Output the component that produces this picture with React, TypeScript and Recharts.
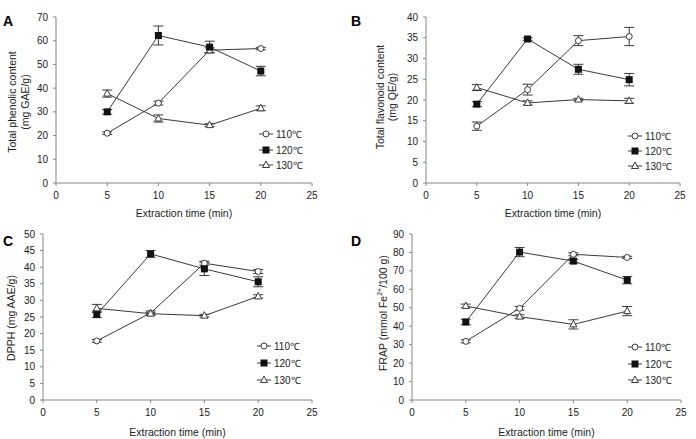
import React from "react";
import { LineChart, Line, XAxis, YAxis, ErrorBar, Label } from "recharts";

const times = [5, 10, 15, 20];
const xTicks = [0, 5, 10, 15, 20, 25];

// A: total phenolic content
const phenol110 = [21, 33.7, 56, 56.7];
const phenol120 = [30, 62.2, 57.3, 47.2];
const phenol130 = [37.7, 27.2, 24.4, 31.5];
const phenolErr110 = [0.5, 0.8, 1, 0.5];
const phenolErr120 = [1, 4, 2.5, 2];
const phenolErr130 = [1.5, 1.5, 0.6, 1];

// B: total flavonoid content
const flav110 = [13.7, 22.5, 34.3, 35.3];
const flav120 = [19, 34.7, 27.4, 24.9];
const flav130 = [23, 19.3, 20.1, 19.8];
const flavErr110 = [1, 1.3, 1.2, 2.2];
const flavErr120 = [0.6, 0.3, 1.2, 1.5];
const flavErr130 = [0.7, 0.5, 0.3, 0.6];

// C: DPPH
const dpph110 = [17.8, 26.2, 41.2, 38.7];
const dpph120 = [25.8, 44, 39.5, 35.6];
const dpph130 = [27.6, 26, 25.4, 31.2];
const dpphErr110 = [0.4, 0.6, 0.6, 0.6];
const dpphErr120 = [1, 1, 2, 1.5];
const dpphErr130 = [1.2, 0.4, 0.4, 0.5];

// D: FRAP
const frap110 = [31.8, 49.7, 79, 77.3];
const frap120 = [42.3, 80.2, 75.3, 65];
const frap130 = [51, 45.2, 41, 48.2];
const frapErr110 = [0.8, 1, 0.8, 0.6];
const frapErr120 = [1.5, 2.5, 1, 2];
const frapErr130 = [1, 1, 2.5, 2.5];

const legendLabels = ["110℃", "120℃", "130℃"];

const FONT = "'Liberation Sans', Arial, sans-serif";
const AXIS = "#878787";
const INK = "#3a3a3a";
const TEXT = "#222";

const buildRows = (a: number[], b: number[], c: number[], ea: number[], eb: number[], ec: number[]) =>
  times.map((t, i) => ({ t, s110: a[i], s120: b[i], s130: c[i], e110: ea[i], e120: eb[i], e130: ec[i] }));

const Circle = (p: any) => <circle key={p.key} cx={p.cx} cy={p.cy} r={3} fill="#fff" stroke={INK} strokeWidth={1} />;
const Square = (p: any) => <rect key={p.key} x={p.cx - 3.5} y={p.cy - 3.5} width={7} height={7} fill="#111" />;
const Triangle = (p: any) => (
  <polygon key={p.key} points={`${p.cx},${p.cy - 4} ${p.cx + 3.5},${p.cy + 2.5} ${p.cx - 3.5},${p.cy + 2.5}`} fill="#fff" stroke={INK} strokeWidth={1} />
);
const shapes = [Circle, Square, Triangle];

const LegendMark = ({ i }: { i: number }) => (
  <svg width={14} height={10} style={{ display: "block" }}>
    <line x1={0} x2={14} y1={5} y2={5} stroke={INK} strokeWidth={1} />
    {shapes[i]({ cx: 7, cy: 5, key: "m" })}
  </svg>
);

type PanelProps = {
  letter: string;
  left: number;
  top: number;
  width: number;
  height: number;
  yWidth: number;
  xHeight: number;
  mTop: number;
  mRight: number;
  yMax: number;
  yStep: number;
  rows: any[];
  yLines: string[] | React.ReactNode[];
  yLabelX: number[];
  yLabelY: number;
  legendX: number;
  legendY: number;
  legendGap: number;
};

const Panel = (p: PanelProps) => {
  const yTicks: number[] = [];
  for (let v = 0; v <= p.yMax; v += p.yStep) yTicks.push(v);
  const yLabel = () => (
    <g>
      {p.yLines.map((line, i) => (
        <text
          key={i}
          x={p.yLabelX[i]}
          y={p.yLabelY}
          transform={`rotate(-90, ${p.yLabelX[i]}, ${p.yLabelY})`}
          textAnchor="middle"
          dominantBaseline="central"
          fontSize={10.5}
          fill={TEXT}
          fontFamily={FONT}
        >
          {line}
        </text>
      ))}
    </g>
  );
  const tick = { fontSize: 10, fill: TEXT, fontFamily: FONT };
  return (
    <div style={{ position: "absolute", left: p.left, top: p.top }}>
      <LineChart width={p.width} height={p.height} data={p.rows} margin={{ top: p.mTop, right: p.mRight, left: 0, bottom: 0 }}>
        <XAxis
          dataKey="t"
          type="number"
          domain={[0, 25]}
          ticks={xTicks}
          height={p.xHeight}
          stroke={AXIS}
          tickSize={3}
          tickMargin={6}
          tick={tick}
          interval={0}
        >
          <Label value="Extraction time (min)" position="insideBottom" offset={3} fontSize={10.5} fill={TEXT} fontFamily={FONT} />
        </XAxis>
        <XAxis xAxisId="top" orientation="top" dataKey="t" type="number" domain={[0, 25]} height={0} stroke={AXIS} tick={false} tickLine={false} />
        <YAxis
          type="number"
          domain={[0, p.yMax]}
          ticks={yTicks}
          width={p.yWidth}
          stroke={AXIS}
          tickSize={3}
          tickMargin={5}
          tick={tick}
          interval={0}
        >
          <Label content={yLabel} />
        </YAxis>
        <YAxis yAxisId="right" orientation="right" domain={[0, p.yMax]} width={0} stroke={AXIS} tick={false} tickLine={false} />
        {["110", "120", "130"].map((s, i) => (
          <Line
            key={s}
            dataKey={`s${s}`}
            stroke={INK}
            strokeWidth={1}
            dot={shapes[i]}
            activeDot={false}
            isAnimationActive={false}
          >
            <ErrorBar dataKey={`e${s}`} direction="y" width={5} stroke={INK} strokeWidth={1} />
          </Line>
        ))}
      </LineChart>
      <div style={{ position: "absolute", left: 3, top: 13, fontFamily: FONT, fontWeight: "bold", fontSize: 14, color: "#000" }}>{p.letter}</div>
      {legendLabels.map((l, i) => (
        <div
          key={l}
          style={{
            position: "absolute",
            left: p.legendX,
            top: p.legendY + i * p.legendGap - 6,
            height: 12,
            display: "flex",
            alignItems: "center",
            gap: 3,
            fontFamily: FONT,
            fontSize: 10,
            color: TEXT,
            whiteSpace: "nowrap",
          }}
        >
          <LegendMark i={i} />
          <span>{l}</span>
        </div>
      ))}
    </div>
  );
};

export default function App() {
  const frapLabel = [
    <tspan key="a">
      FRAP (mmol Fe<tspan baselineShift="super" fontSize={7}>2+</tspan>/100 g)
    </tspan>,
  ];
  return (
    <div style={{ position: "absolute", left: 0, top: 0, width: 696, height: 439, background: "#fff" }}>
      <Panel
        letter="A"
        left={0}
        top={0}
        width={348}
        height={220}
        yWidth={56}
        xHeight={37}
        mTop={17}
        mRight={36}
        yMax={70}
        yStep={10}
        rows={buildRows(phenol110, phenol120, phenol130, phenolErr110, phenolErr120, phenolErr130)}
        yLines={["Total phenolic content", "(mg GAE/g)"]}
        yLabelX={[12, 25]}
        yLabelY={102}
        legendX={259}
        legendY={134}
        legendGap={15.5}
      />
      <Panel
        letter="B"
        left={348}
        top={0}
        width={348}
        height={220}
        yWidth={78}
        xHeight={37}
        mTop={17}
        mRight={16}
        yMax={40}
        yStep={5}
        rows={buildRows(flav110, flav120, flav130, flavErr110, flavErr120, flavErr130)}
        yLines={["Total flavonoid content", "(mg QE/g)"]}
        yLabelX={[32, 44]}
        yLabelY={97}
        legendX={280}
        legendY={136}
        legendGap={15}
      />
      <Panel
        letter="C"
        left={0}
        top={220}
        width={348}
        height={219}
        yWidth={43}
        xHeight={39}
        mTop={14}
        mRight={36}
        yMax={50}
        yStep={5}
        rows={buildRows(dpph110, dpph120, dpph130, dpphErr110, dpphErr120, dpphErr130)}
        yLines={["DPPH (mg AAE/g)"]}
        yLabelX={[11]}
        yLabelY={98}
        legendX={257}
        legendY={126}
        legendGap={17}
      />
      <Panel
        letter="D"
        left={348}
        top={220}
        width={348}
        height={219}
        yWidth={64}
        xHeight={39}
        mTop={14}
        mRight={15}
        yMax={90}
        yStep={10}
        rows={buildRows(frap110, frap120, frap130, frapErr110, frapErr120, frapErr130)}
        yLines={frapLabel}
        yLabelX={[35]}
        yLabelY={93}
        legendX={280}
        legendY={127}
        legendGap={16.5}
      />
    </div>
  );
}
